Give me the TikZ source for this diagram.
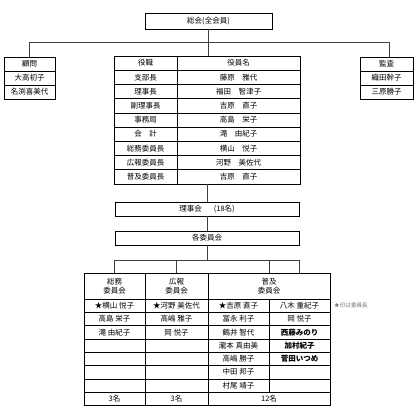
\documentclass[tikz,border=0pt]{standalone}
\usepackage{fontspec}
\setmainfont{Noto Sans CJK JP}
\usetikzlibrary{positioning}

\tikzset{
  framebox/.style={
    draw=black, line width=0.7pt, inner sep=0pt, outer sep=0pt,
    align=center, font=\fontsize{7.5}{9.2}\selectfont
  },
  cellbox/.style={
    framebox, line width=0.6pt
  },
  linkline/.style={
    draw=black!75, line width=0.7pt
  },
  notetext/.style={
    font=\fontsize{5.6}{7}\selectfont, text=black!55, inner sep=0pt
  },
}

\begin{document}
\begin{tikzpicture}[x=1pt, y=-1pt]
  \useasboundingbox[fill=white] (0,0) rectangle (420,420);

  %% General assembly
  \node[framebox, minimum width=127pt, minimum height=16pt] (top) at (208.5,21)
    {総会(全会員)};

  %% Advisers (left) and auditors (right)
  \foreach \who [count=\i] in {顧問, 大高初子, 名渕喜美代}
    \node[cellbox, minimum width=51pt, minimum height=14pt] (adv\i)
      at (29.5, 50+14*\i) {\who};
  \foreach \who [count=\i] in {監査, 織田幹子, 三原勝子}
    \node[cellbox, minimum width=53pt, minimum height=14pt] (aud\i)
      at (386.5, 50+14*\i) {\who};

  %% Officers table
  \foreach \role/\name [count=\i] in {役職/役員名, 支部長/藤原　雅代,
      理事長/福田　智津子, 副理事長/吉原　直子, 事務局/高島　栄子,
      会　計/滝　由紀子, 総務委員長/横山　悦子, 広報委員長/河野　美佐代,
      普及委員長/吉原　直子} {
    \node[cellbox, minimum width=63pt, minimum height=14.2pt] (role\i)
      at (145.5, 48.9+14.2*\i) {\role};
    \node[cellbox, minimum width=123pt, minimum height=14.2pt] (name\i)
      at (238.5, 48.9+14.2*\i) {\name};
  }

  %% Board and committees
  \node[framebox, minimum width=184pt, minimum height=14pt] (board)
    at (207,209) {理事会\hspace{1.6em}(18名)};
  \node[framebox, minimum width=184pt, minimum height=14pt] (iin)
    at (207,238) {各委員会};

  %% Committee table: headers
  \node[cellbox, minimum width=61pt, minimum height=26pt] (hsomu)
    at (114.5,286) {総務\\委員会};
  \node[cellbox, minimum width=63pt, minimum height=26pt] (hkoho)
    at (176.5,286) {広報\\委員会};
  \node[cellbox, minimum width=122pt, minimum height=26pt] (hfukyu)
    at (269,286) {普及\\委員会};

  %% Committee table: members
  \foreach \a/\b/\c/\d [count=\j] in {
      ★横山 悦子/★河野 美佐代/★吉原 直子/八木 重紀子,
      高島 栄子/高嶋 雅子/冨永 利子/岡 悦子,
      滝 由紀子/岡 悦子/鶴井 智代/\textbf{西藤みのり},
      {}/{}/瀧本 真由美/\textbf{加村紀子},
      {}/{}/高嶋 勝子/\textbf{菅田いつめ},
      {}/{}/中田 邦子/{},
      {}/{}/村尾 靖子/{}} {
    \node[cellbox, minimum width=61pt, minimum height=13.3pt] (ca\j)
      at (114.5, 292.35+13.3*\j) {\a};
    \node[cellbox, minimum width=63pt, minimum height=13.3pt] (cb\j)
      at (176.5, 292.35+13.3*\j) {\b};
    \node[cellbox, minimum width=61pt, minimum height=13.3pt] (cc\j)
      at (238.5, 292.35+13.3*\j) {\c};
    \node[cellbox, minimum width=61pt, minimum height=13.3pt] (cd\j)
      at (299.5, 292.35+13.3*\j) {\d};
  }

  %% Committee table: totals
  \node[cellbox, minimum width=61pt, minimum height=13.3pt] (tsomu)
    at (114.5,398.75) {3名};
  \node[cellbox, minimum width=63pt, minimum height=13.3pt] (tkoho)
    at (176.5,398.75) {3名};
  \node[cellbox, minimum width=122pt, minimum height=13.3pt] (tfukyu)
    at (269,398.75) {12名};

  \node[notetext, anchor=west] (note) at (334,305.5) {★印は委員長};

  %% Connectors
  \coordinate (bar) at (208,42);
  \coordinate (split) at (207,260);
  \draw[linkline] (top.south) -- (top.south |- role1.north);
  \draw[linkline] (adv1.north) -- (adv1.north |- bar)
    -- ([xshift=3pt]aud1.north |- bar) -- ([xshift=3pt]aud1.north);
  \draw[linkline] (board.north) -- (board.north |- name9.south);
  \draw[linkline] (board.south) -- (iin.north);
  \draw[linkline] (iin.south) -- (split);
  \draw[linkline] (hsomu.north |- split) -- (cd1.north |- split);
  \draw[linkline] (hsomu.north |- split) -- (hsomu.north);
  \draw[linkline] (hkoho.north |- split) -- (hkoho.north);
  \draw[linkline] (hfukyu.north |- split) -- (hfukyu.north);
  \draw[linkline] (cd1.north |- split) -- (cd1.north |- hfukyu.north);

\end{tikzpicture}
\end{document}
